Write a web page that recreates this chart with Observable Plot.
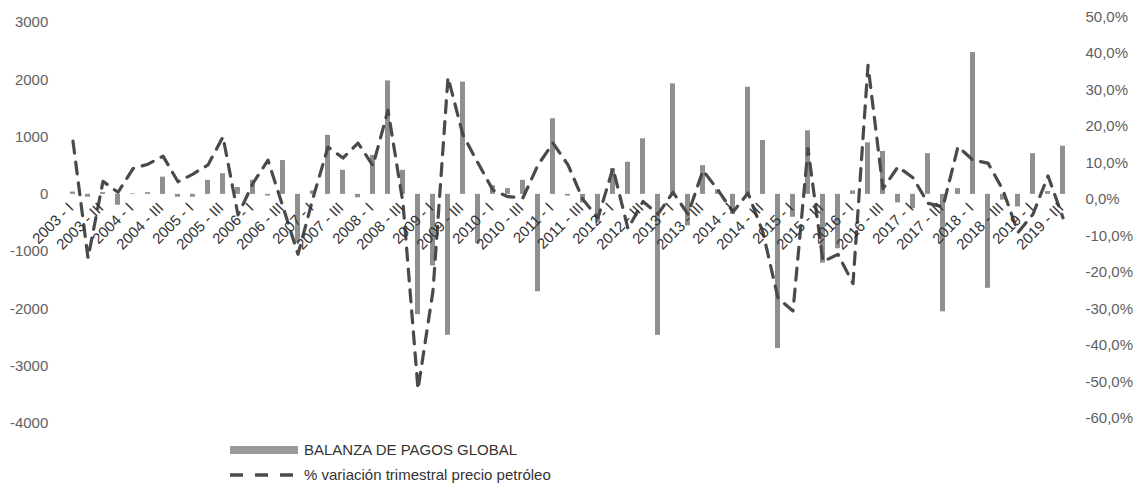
<!DOCTYPE html>
<html>
<head>
<meta charset="utf-8">
<script src="https://cdn.jsdelivr.net/npm/d3@7"></script>
<script src="https://cdn.jsdelivr.net/npm/@observablehq/plot@0.6"></script>
<style>
  body { margin: 0; background: #fff; font-family: "Liberation Sans", Arial, sans-serif; }
  #chart svg { display: block; }
  #legend { position: relative; width: 1141px; height: 58px; font-size: 15px; color: #333; }
  #legend .sw { position: absolute; left: 230px; }
  #legend .lab { position: absolute; left: 304px; line-height: 18px; white-space: nowrap; }
</style>
</head>
<body>
<div id="chart"></div>
<div id="legend">
  <svg class="sw" style="top:11px" width="68" height="8"><rect x="0" y="0" width="68" height="8" fill="#9a9a9a"></rect></svg>
  <div class="lab" style="top:6px">BALANZA DE PAGOS GLOBAL</div>
  <svg class="sw" style="top:36px" width="68" height="8"><line x1="0" y1="4" x2="68" y2="4" stroke="#4a4a4a" stroke-width="3.5" stroke-dasharray="13,12"></line></svg>
  <div class="lab" style="top:31px">% variación trimestral precio petróleo</div>
</div>
<script>
const categories = [
  "2003 - I","2003 - II","2003 - III","2003 - IV",
  "2004 - I","2004 - II","2004 - III","2004 - IV",
  "2005 - I","2005 - II","2005 - III","2005 - IV",
  "2006 - I","2006 - II","2006 - III","2006 - IV",
  "2007 - I","2007 - II","2007 - III","2007 - IV",
  "2008 - I","2008 - II","2008 - III","2008 - IV",
  "2009 - I","2009 - II","2009 - III","2009 - IV",
  "2010 - I","2010 - II","2010 - III","2010 - IV",
  "2011 - I","2011 - II","2011 - III","2011 - IV",
  "2012 - I","2012 - II","2012 - III","2012 - IV",
  "2013 - I","2013 - II","2013 - III","2013 - IV",
  "2014 - I","2014 - II","2014 - III","2014 - IV",
  "2015 - I","2015 - II","2015 - III","2015 - IV",
  "2016 - I","2016 - II","2016 - III","2016 - IV",
  "2017 - I","2017 - II","2017 - III","2017 - IV",
  "2018 - I","2018 - II","2018 - III","2018 - IV",
  "2019 - I","2019 - II","2019 - III"
];
// BALANZA DE PAGOS GLOBAL (left axis)
const balanza = [
  40, -50, 30, -190, 10, 30, 300, -50,
  -50, 245, 360, 120, 245, -30, 590, -850,
  60, 1030, 420, -60, 680, 1980, 420, -2100,
  -1250, -2460, 1960, -860, 150, 100, 245, -1700,
  1320, -30, -150, -500, 450, 560, 970, -2460,
  1930, -550, 500, 80, -350, 1870, 940, -2690,
  -400, 1110, -1200, -950, 60, 900, 750, -150,
  -250, 710, -2050, 100, 2475, -1640, -100, -220,
  710, 50, 840
];
// % variación trimestral precio petróleo (right axis, %)
const petroleo = [
  16, -16, 5, 2, 8.5, 9.7, 11.9, 4.9,
  7, 9.5, 17.2, -4.2, 4.5, 10.8, -2, -15,
  0.4, 14.4, 11.4, 15.5, 9.3, 24.5, -1, -52,
  -25, 33.5, 17.7, 10, 2.6, 0.8, 0.5, 9.5,
  15.5, 9.5, 0, -5, 8.6, -8, -0.5, -4,
  2, -4, 8, 2.6, -3.4, 1.8, -9, -27,
  -30.5, 14, -17, -15, -23, 36.8, 3, 9,
  6, -1, -2, 14.5, 10.8, 10, 2.6, -9,
  -4, 6.5, -5
];
const leftTicks = [-4000, -3000, -2000, -1000, 0, 1000, 2000, 3000];
const rightTicks = [-60, -50, -40, -30, -20, -10, 0, 10, 20, 30, 40, 50];

// secondary axis: % value expressed in left-axis units
const pctToLeft = p => -91.5 + 63.71 * p;
const leftToPct = v => Math.round((v + 91.5) / 63.71);
const fmtPct = p => p.toFixed(1).replace(".", ",") + "%";

const data = categories.map((q, i) => ({q, i, bal: balanza[i], pct: petroleo[i]}));
const labelled = data.filter(d => d.i % 2 === 0);

const chart = Plot.plot({
  width: 1141,
  height: 435,
  marginLeft: 61.8,
  marginRight: 68.5,
  marginTop: 22,
  marginBottom: 12,
  style: {color: "#5f5f5f", fontFamily: "'Liberation Sans', Arial, sans-serif", background: "#fff"},
  x: {type: "band", domain: categories, paddingInner: 0.7, paddingOuter: 0.35, axis: null},
  y: {domain: [-4000, 3000], axis: null},
  marks: [
    Plot.barY(data, {x: "q", y: "bal", fill: "#8f8f8f"}),
    Plot.line(data, {x: "q", y: d => pctToLeft(d.pct), stroke: "#4a4a4a", strokeWidth: 3.2, strokeDasharray: "12,9"}),
    Plot.text(labelled, {x: "q", y: () => 0, text: "q", rotate: -45, textAnchor: "end", dx: -2, dy: 11, fontSize: 15, fill: "#333"}),
    Plot.axisY({anchor: "left", ticks: leftTicks, label: null, tickSize: 0, tickPadding: 14, fontSize: 15, tickFormat: d => String(d)}),
    Plot.axisY({anchor: "right", ticks: rightTicks.map(pctToLeft), label: null, tickSize: 0, tickPadding: 12.5, fontSize: 15, tickFormat: v => fmtPct(leftToPct(v))})
  ]
});
document.getElementById("chart").appendChild(chart);
</script>
</body>
</html>
